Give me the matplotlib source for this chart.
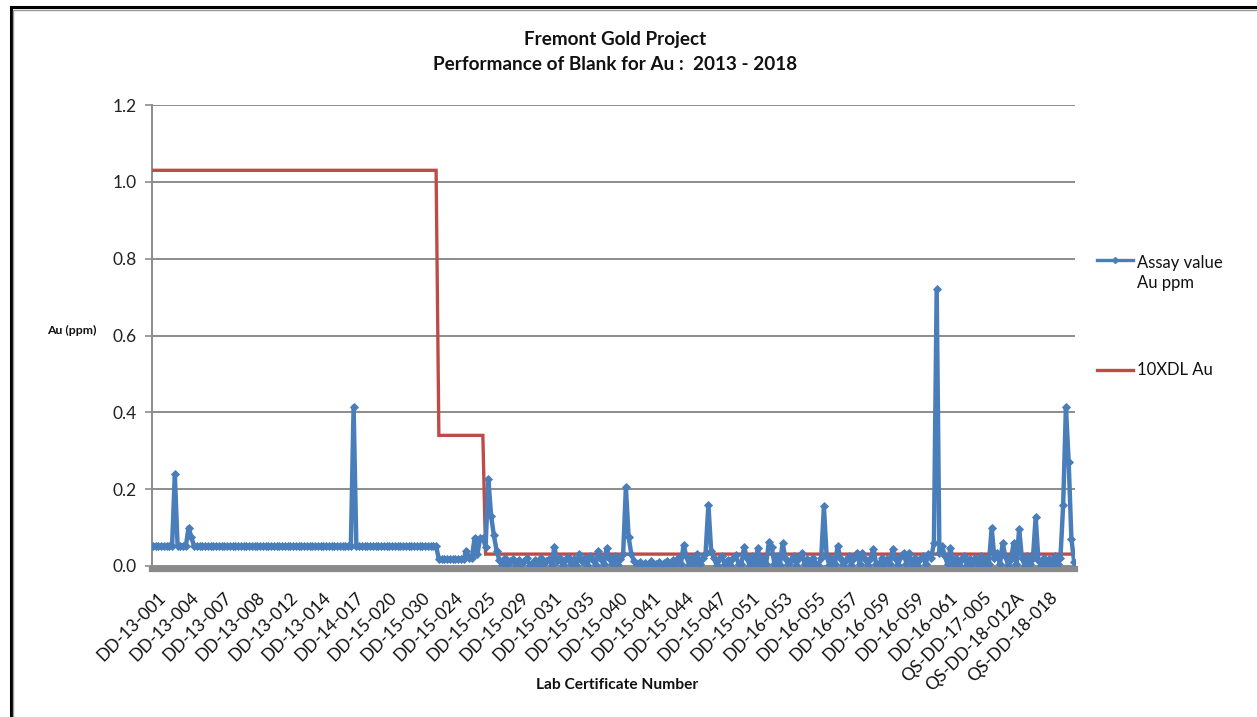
import matplotlib
matplotlib.use("Agg")
import matplotlib.pyplot as plt
import matplotlib.transforms as mtransforms
from matplotlib.lines import Line2D
from matplotlib.patches import Rectangle

plt.rcParams['font.family'] = ['Lato', 'DejaVu Sans']

# ---------------- data ----------------
title_lines = ["Fremont Gold Project", "Performance of Blank for Au :  2013 - 2018"]
x_label = "Lab Certificate Number"
y_label = "Au (ppm)"
series_names = ["Assay value\nAu ppm", "10XDL Au"]

tick_labels = ["DD-13-001", "DD-13-004", "DD-13-007", "DD-13-008", "DD-13-012",
               "DD-13-014", "DD-14-017", "DD-15-020", "DD-15-030", "DD-15-024",
               "DD-15-025", "DD-15-029", "DD-15-031", "DD-15-035", "DD-15-040",
               "DD-15-041", "DD-15-044", "DD-15-047", "DD-15-051", "DD-16-053",
               "DD-16-055", "DD-16-057", "DD-16-059", "DD-16-059", "DD-16-061",
               "QS-DD-17-005", "QS-DD-18-012A", "QS-DD-18-018"]
label_every = 12  # one certificate label shown per 12 samples

assay_au = [
    .052, .052, .052, .052, .052, .052, .052, .052, .24, .052, .052, .052,
    .052, .10, .075, .052, .052, .052, .052, .052, .052, .052, .052, .052,
    .052, .052, .052, .052, .052, .052, .052, .052, .052, .052, .052, .052,
    .052, .052, .052, .052, .052, .052, .052, .052, .052, .052, .052, .052,
    .052, .052, .052, .052, .052, .052, .052, .052, .052, .052, .052, .052,
    .052, .052, .052, .052, .052, .052, .052, .052, .052, .052, .052, .052,
    .052, .415, .052, .052, .052, .052, .052, .052, .052, .052, .052, .052,
    .052, .052, .052, .052, .052, .052, .052, .052, .052, .052, .052, .052,
    .052, .052, .052, .052, .052, .052, .052, .052, .018, .018, .018, .018,
    .018, .018, .018, .018, .018, .018, .04, .02, .022, .073, .03, .073,
    .073, .05, .227, .13, .08, .04, .015, .002, .02, .004, .012, .018,
    .003, .015, .004, .012, .02, .003, .005, .016, .002, .022, .006, .014,
    .018, .003, .05, .012, .02, .002, .015, .024, .004, .018, .003, .03,
    .012, .022, .003, .025, .015, .002, .04, .018, .004, .047, .02, .005,
    .025, .003, .018, .03, .205, .075, .03, .012, .003, .01, .002, .008,
    .002, .012, .003, .004, .01, .002, .008, .012, .002, .015, .004, .02,
    .005, .055, .025, .003, .02, .008, .03, .004, .022, .035, .16, .04,
    .02, .003, .018, .025, .004, .015, .003, .02, .028, .005, .006, .05,
    .02, .003, .025, .008, .047, .003, .022, .005, .063, .05, .006, .025,
    .003, .06, .02, .004, .015, .025, .003, .02, .035, .004, .018, .003,
    .022, .006, .003, .02, .155, .025, .003, .018, .005, .052, .02, .003,
    .015, .025, .003, .02, .035, .005, .035, .018, .003, .022, .045, .006,
    .003, .02, .004, .018, .005, .045, .02, .003, .025, .035, .006, .035,
    .005, .02, .003, .018, .025, .006, .03, .02, .06, .72, .035, .052,
    .025, .004, .048, .006, .02, .003, .015, .025, .003, .018, .004, .02,
    .005, .025, .003, .018, .006, .10, .02, .035, .004, .06, .025, .003,
    .018, .06, .006, .097, .02, .003, .025, .005, .02, .128, .015, .003,
    .022, .005, .018, .003, .025, .006, .02, .16, .415, .27, .07, .01,
]

# 10x detection limit: sample index where each level applies, and the level
dl10_index = [0, 103, 104, 120, 121, 335]
dl10_au = [1.03, 1.03, 0.34, 0.34, 0.031, 0.031]

y_ticks = [0.0, 0.2, 0.4, 0.6, 0.8, 1.0, 1.2]

# ---------------- styles ----------------
BLUE = "#4A7EBB"
RED = "#BE4B48"
GRID = "#8C8C8C"

W, H = 1257, 717
fig = plt.figure(figsize=(W / 100, H / 100), dpi=100)
fig.patch.set_facecolor("white")

L, R, T, B = 152, 1075, 105, 566
ax = fig.add_axes([L / W, 1 - B / H, (R - L) / W, (B - T) / H])

# spines first (set_position resets ticks)
for s in ["top", "right"]:
    ax.spines[s].set_visible(False)
ax.spines["left"].set_color(GRID)
ax.spines["left"].set_linewidth(1.4)
ax.spines["bottom"].set_color("#8A8A8A")
ax.spines["bottom"].set_linewidth(4.5)
ax.spines["bottom"].set_position(("outward", 2))
ax.spines["bottom"].set_zorder(2)

n = len(assay_au)
xs = list(range(n))

ax.plot(dl10_index, dl10_au, color=RED, lw=2.4, solid_joinstyle="miter", zorder=3)
ax.plot(xs, assay_au, color=BLUE, lw=3.2, marker="D", ms=3.6,
        markeredgewidth=0.6, markeredgecolor=BLUE, zorder=4)

ax.set_xlim(-0.3, n - 1 + 0.3)
ax.set_ylim(0, 1.2)
ax.set_yticks(y_ticks)
ax.set_yticklabels([f"{v:.1f}" for v in y_ticks], fontsize=12.5, color="#222222")
ax.yaxis.grid(True, color=GRID, lw=1.4)
ax.set_axisbelow(True)

tick_pos = [i * label_every for i in range(len(tick_labels))]
ax.set_xticks(tick_pos)
ax.set_xticklabels(tick_labels, rotation=45, ha="right", va="top",
                   rotation_mode="anchor", fontsize=12.5, color="#111111")
ax.tick_params(axis="x", length=0, pad=15)
ax.tick_params(axis="y", length=5, width=1.2, color=GRID, pad=6)
shift = mtransforms.ScaledTranslation(5 / 100, 0, fig.dpi_scale_trans)
for lab in ax.get_xticklabels():
    lab.set_transform(lab.get_transform() + shift)

# titles / labels
fig.text(615 / W, 1 - 40 / H, title_lines[0], ha="center", va="center",
         fontsize=13.6, fontweight="bold", color="#111111")
fig.text(615 / W, 1 - 65 / H, title_lines[1], ha="center", va="center",
         fontsize=13.6, fontweight="bold", color="#111111")
fig.text(72 / W, 1 - 330 / H, y_label, ha="center", va="center",
         fontsize=8.8, fontweight="bold", color="#111111")
fig.text(617 / W, 1 - 685 / H, x_label, ha="center", va="center",
         fontsize=11.2, fontweight="bold", color="#111111")

# legend
fig.add_artist(Line2D([1097 / W, 1133 / W], [1 - 260 / H, 1 - 260 / H],
                      color=BLUE, lw=2.4, transform=fig.transFigure))
fig.add_artist(Line2D([1115 / W], [1 - 260 / H], color=BLUE, marker="D", ms=3,
                      transform=fig.transFigure))
fig.text(1137 / W, 1 - 273 / H, series_names[0], ha="left", va="center",
         fontsize=12, color="#111111", linespacing=1.25)
fig.add_artist(Line2D([1097 / W, 1133 / W], [1 - 370 / H, 1 - 370 / H],
                      color=RED, lw=2.4, transform=fig.transFigure))
fig.text(1137 / W, 1 - 370 / H, series_names[1], ha="left", va="center",
         fontsize=12, color="#111111")

# outer frame (screenshot border)
fig.add_artist(Rectangle((11 / W, -0.05), 1.2, 1 - 7 / H + 0.05,
                         transform=fig.transFigure, fill=False,
                         edgecolor="#000000", lw=2.2))
fig.add_artist(Rectangle((13.5 / W, -0.05), 1.2, 1 - 9.5 / H + 0.05,
                         transform=fig.transFigure, fill=False,
                         edgecolor="#9A9A9A", lw=1.0))

fig.savefig("out.png", dpi=100)
